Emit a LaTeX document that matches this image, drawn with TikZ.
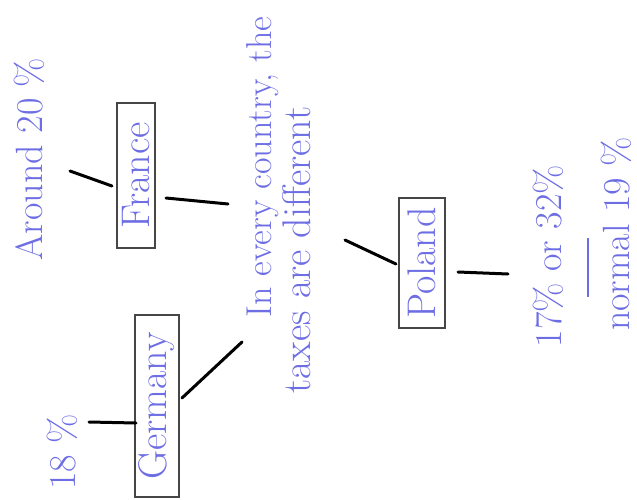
\documentclass[tikz,border=0pt]{standalone}
\usepackage{tikz}
\definecolor{ink}{RGB}{110,110,228}
\definecolor{pencil}{RGB}{70,70,70}

\begin{document}
\begin{tikzpicture}[x=1pt, y=-1pt,
  note/.style={text=ink, rotate=90, inner sep=0pt, font=\fontsize{36}{42}\selectfont},
  country/.style={draw=pencil, line width=2.2pt, text=ink, rotate=90, inner sep=0pt, font=\fontsize{40}{46}\selectfont},
  link/.style={line width=3pt, line cap=round}]
  \useasboundingbox (0,0) rectangle (637,499);
  % ---------------------------------------------------------------- the centre
  \node[note] (every) at (263,167) {In every country, the};
  \node[note, font=\fontsize{40}{46}\selectfont] (taxes) at (297,250) {taxes are different};
  % ---------------------------------------------------------------- France
  \node[country, minimum width=145pt, minimum height=38pt] (france) at (136,175.5) {France};
  \node[note, font=\fontsize{38}{44}\selectfont] (around) at (29,159) {Around 20 \%};
  \coordinate (around-end) at (70,171);
  \coordinate (france-in) at (112,186);
  \coordinate (france-out) at (166,198);
  \coordinate (every-in) at (228,204);
  \draw[link] (around-end) -- (france-in);
  \draw[link] (france-out) -- (every-in);
  % ---------------------------------------------------------------- Germany
  \node[country, minimum width=182pt, minimum height=44pt] (germany) at (157,406) {Germany};
  \node[note, font=\fontsize{38}{44}\selectfont] (eighteen) at (62,452) {18 \%};
  \coordinate (eighteen-end) at (89,422);
  \coordinate (germany-in) at (136,423);
  \coordinate (germany-out) at (182,398);
  \coordinate (taxes-in) at (242,342);
  \draw[link] (eighteen-end) -- (germany-in);
  \draw[link] (germany-out) -- (taxes-in);
  % ---------------------------------------------------------------- Poland
  \node[country, minimum width=130pt, minimum height=46pt] (poland) at (422,263) {Poland};
  \node[note, font=\fontsize{38}{44}\selectfont] (rates) at (548,256) {17\% or 32\%};
  \node[note, font=\fontsize{38}{44}\selectfont] (normal) at (616,234) {normal 19 \%};
  \coordinate (taxes-out) at (345,240);
  \coordinate (poland-in) at (396,264);
  \coordinate (poland-out) at (458,272);
  \coordinate (rates-end) at (508,274);
  \draw[link] (taxes-out) -- (poland-in);
  \draw[link] (poland-out) -- (rates-end);
  % a short stroke between the two rates
  \draw[ink, line width=1.5pt] (588,238) -- (588,297);
\end{tikzpicture}
\end{document}
